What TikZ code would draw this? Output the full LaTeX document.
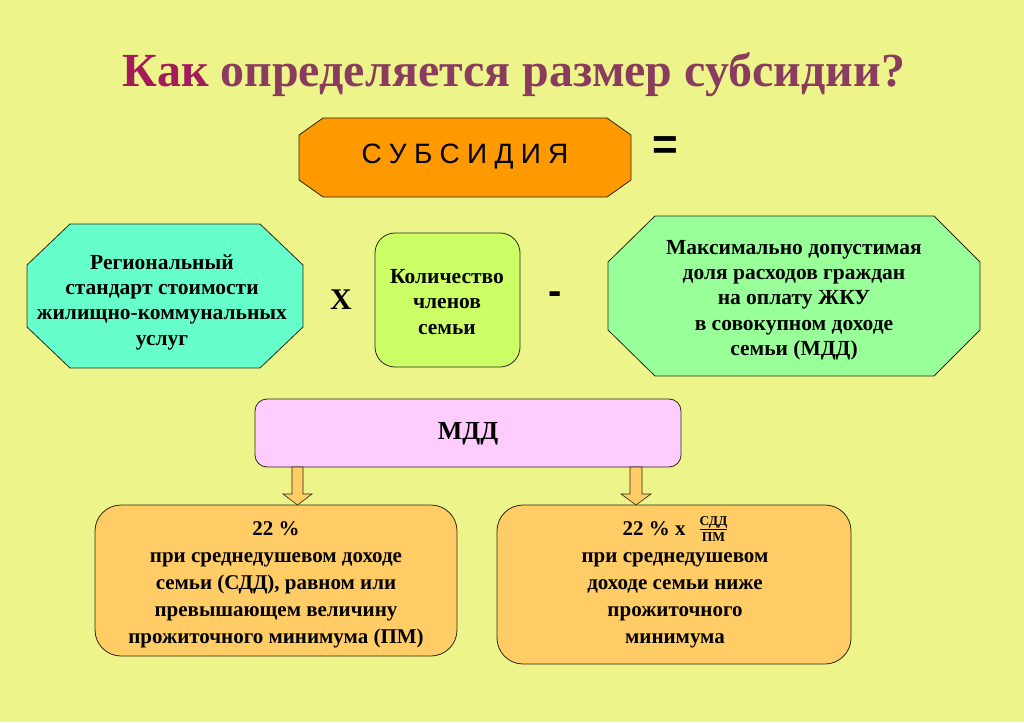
\documentclass[tikz,border=0pt]{standalone}
\usepackage{fontspec}
\setmainfont{Liberation Serif}
\newfontfamily\arialf{Liberation Sans}
\definecolor{bg}{RGB}{237,245,138}
\definecolor{kak}{RGB}{163,28,90}
\definecolor{ttl}{RGB}{138,60,94}
\definecolor{orng}{RGB}{255,153,0}
\definecolor{cyanf}{RGB}{102,255,204}
\definecolor{limef}{RGB}{204,255,102}
\definecolor{greenf}{RGB}{153,255,153}
\definecolor{pinkf}{RGB}{255,204,255}
\definecolor{goldf}{RGB}{255,204,102}
\definecolor{edge}{RGB}{40,40,20}
\tikzset{
  shapeline/.style={draw=edge, line width=0.8pt},
  bodytext/.style={align=center, text=black, font=\fontsize{21.5}{25.3}\selectfont\bfseries},
  bottext/.style={align=center, text=black, font=\fontsize{21}{27}\selectfont\bfseries},
  opsign/.style={text=black, inner sep=0pt},
  blockarrow/.style={draw=edge, line width=0.6pt, fill=goldf},
}
\begin{document}
\begin{tikzpicture}[x=1pt,y=-1pt]
\fill[bg] (0,0) rectangle (1024,722);
\useasboundingbox (0,0) rectangle (1024,722);

% title
\node[anchor=base, inner sep=0pt] (title) at (514,87)
  {\resizebox{782pt}{34pt}{\bfseries\textcolor{kak}{Как} \textcolor{ttl}{определяется размер субсидии?}}};

% subsidy box
\draw[shapeline, fill=orng] (323,118) -- (607,118) -- (631,135) -- (631,180) -- (607,197) -- (323,197) -- (299,180) -- (299,135) -- cycle;
\node[inner sep=0pt, font=\arialf\fontsize{28}{30}\selectfont] (subs) at (465,157) {С\hspace{0.26em}У\hspace{0.26em}Б\hspace{0.26em}С\hspace{0.26em}И\hspace{0.26em}Д\hspace{0.26em}И\hspace{0.26em}Я};
\node[opsign, font=\arialf\bfseries\fontsize{44}{44}\selectfont] (eq) at (665,148) {=};

% left octagon
\draw[shapeline, fill=cyanf] (70,224) -- (260,224) -- (303,265) -- (303,327) -- (260,368) -- (70,368) -- (27,327) -- (27,265) -- cycle;
\node[bodytext] (rss) at (162,302) {Региональный\\стандарт стоимости\\жилищно-коммунальных\\услуг};

\node[opsign, font=\bfseries\fontsize{30}{30}\selectfont] (times) at (341,300) {Х};

% middle box
\draw[shapeline, fill=limef, rounded corners=20pt] (375,233) rectangle (520,367);
\node[bodytext] (kol) at (447,302) {Количество\\членов\\семьи};

\node[opsign, font=\arialf\bfseries\fontsize{40}{40}\selectfont] (minus) at (555,298) {-};

% right octagon
\draw[shapeline, fill=greenf] (655,216) -- (934,216) -- (980,262) -- (980,330) -- (934,376) -- (655,376) -- (608,330) -- (608,262) -- cycle;
\node[bodytext] (mdddesc) at (794,300) {Максимально допустимая\\доля расходов граждан\\на оплату ЖКУ\\в совокупном доходе\\семьи (МДД)};

% MDD box
\draw[shapeline, fill=pinkf, rounded corners=12pt] (255,399) rectangle (681,467);
\node[bodytext, font=\fontsize{26}{28}\selectfont\bfseries] (mdd) at (468,434) {МДД};

% bottom boxes
\draw[shapeline, fill=goldf, rounded corners=26pt] (95,505) rectangle (457,656);
\node[bottext] (left) at (276,585) {22 \%\\при среднедушевом доходе\\семьи (СДД), равном или\\превышающем величину\\прожиточного минимума (ПМ)};

\draw[shapeline, fill=goldf, rounded corners=26pt] (497,505) rectangle (851,664);
\node[bottext] (right) at (675,585) {22 \% х\hspace{14pt}\raisebox{-6pt}[0pt][0pt]{\fontsize{13.5}{14}\selectfont\bfseries\shortstack{\underline{СДД}\\ПМ}}\\при среднедушевом\\доходе семьи ниже\\прожиточного\\минимума};

% block arrows
\draw[blockarrow] (292,467) -- (303,467) -- (303,494) -- (312,494) -- (297.5,505) -- (283,494) -- (292,494) -- cycle;
\draw[blockarrow] (630,467) -- (642,467) -- (642,494) -- (651,494) -- (636,505) -- (621,494) -- (630,494) -- cycle;
\end{tikzpicture}
\end{document}
